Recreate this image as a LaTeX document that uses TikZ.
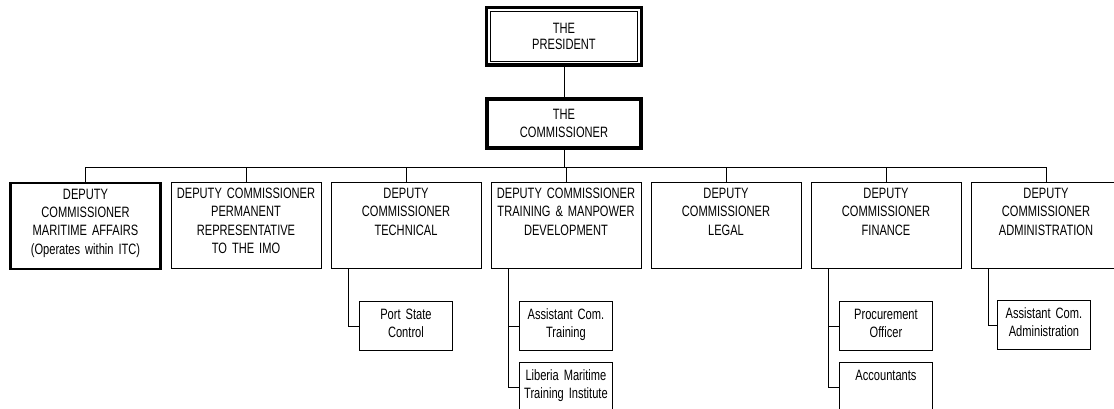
\documentclass[tikz,border=0pt]{standalone}
\usepackage{fontspec}
\setmainfont{Liberation Sans}[FakeStretch=0.74]

\begin{document}
\begin{tikzpicture}[x=1pt,y=-1pt,line width=0.9pt,
		chart/.style={draw,line width=0.9pt,font=\fontsize{15}{18.3}\selectfont},
		headbox/.style={chart,align=center,inner sep=0pt,line width=3.5pt},
		deputy/.style={chart,anchor=north,text width=142pt,align=center,inner xsep=4pt,inner ysep=5pt,text height=11pt,text depth=65pt},
		office/.style={chart,anchor=north west,text width=85pt,align=center,inner xsep=4pt,inner ysep=6pt,text height=12pt,text depth=25pt}]
	\useasboundingbox (0,0) rectangle (1114,409);

	% top of the chart
	\node[headbox,minimum width=155pt,minimum height=57.5pt,font=\fontsize{15}{16}\selectfont] (president) at (564,36.5) {THE\\PRESIDENT};
	\draw[line width=0.8pt] ([shift={(5.5,5.5)}]president.north west) rectangle ([shift={(-5.5,-5.5)}]president.south east);
	\node[headbox,minimum width=154pt,minimum height=49pt] (commissioner) at (564,123.5) {THE\\COMMISSIONER};
	\coordinate (bus) at (564,167);

	% deputy commissioners
	\node[deputy,line width=2.2pt] (maritime) at (85.5,182) {DEPUTY\\COMMISSIONER\\MARITIME AFFAIRS\\(Operates within ITC)};
	\node[deputy] (imo) at (246,182) {DEPUTY COMMISSIONER\\PERMANENT\\REPRESENTATIVE\\TO THE IMO};
	\node[deputy] (technical) at (406,182) {DEPUTY\\COMMISSIONER\\TECHNICAL};
	\node[deputy] (training) at (566,182) {DEPUTY COMMISSIONER\\TRAINING \& MANPOWER\\DEVELOPMENT};
	\node[deputy] (legal) at (726,182) {DEPUTY\\COMMISSIONER\\LEGAL};
	\node[deputy] (finance) at (886,182) {DEPUTY\\COMMISSIONER\\FINANCE};
	\node[deputy] (admin) at (1046,182) {DEPUTY\\COMMISSIONER\\ADMINISTRATION};

	% offices
	\node[office] (portstate) at (359,301) {Port State\\Control};
	\node[office] (actraining) at (519,301) {Assistant Com.\\Training};
	\node[office] (lmti) at (519,362) {Liberia Maritime\\Training Institute};
	\node[office] (procurement) at (839,301) {Procurement\\Officer};
	\node[office] (accountants) at (839,362) {Accountants};
	\node[office] (acadmin) at (997,300) {Assistant Com.\\Administration};

	% connectors
	\draw (president) -- (commissioner);
	\draw (commissioner) -- (bus);
	\foreach \d in {maritime,imo,technical,training,legal,finance,admin}
		\draw (bus) -| (\d.north);
	\draw ([xshift=18pt]technical.south west) |- (portstate.west);
	\draw ([xshift=18pt]training.south west) |- (actraining.west);
	\draw ([xshift=18pt]training.south west) |- (lmti.west);
	\draw ([xshift=18pt]finance.south west) |- (procurement.west);
	\draw ([xshift=18pt]finance.south west) |- (accountants.west);
	\draw ([xshift=18pt]admin.south west) |- (acadmin.west);
\end{tikzpicture}
\end{document}
